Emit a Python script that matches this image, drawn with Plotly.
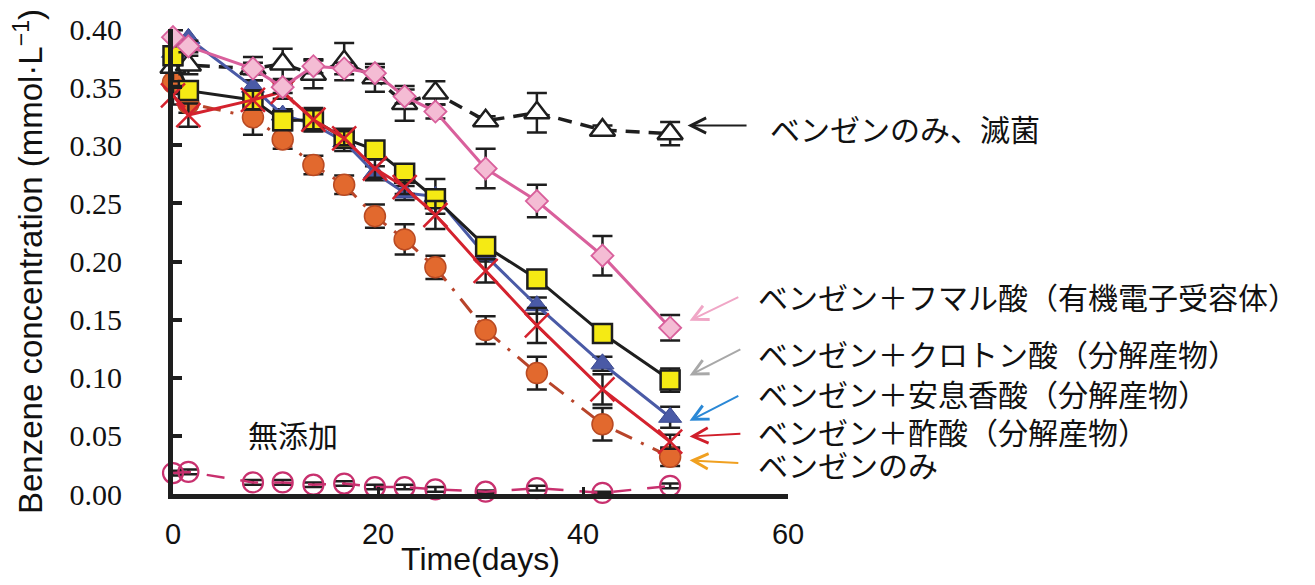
import plotly.graph_objects as go

# Sampling days
days = [0, 1.5, 7.8, 10.7, 13.7, 16.7, 19.7, 22.6, 25.6, 30.5, 35.5, 41.9, 48.5]

# Benzene concentration (mmol/L) and standard deviations per treatment
sterile = [0.367, 0.369, 0.366, 0.370, 0.361, 0.372, 0.358, 0.336, 0.345, 0.321, 0.328, 0.313, 0.310]
sterile_err = [0.012, 0.008, 0.010, 0.013, 0.012, 0.016, 0.012, 0.015, 0.010, 0.004, 0.017, 0.004, 0.010]

fumaric = [0.393, 0.385, 0.366, 0.350, 0.368, 0.366, 0.362, 0.342, 0.329, 0.280, 0.252, 0.205, 0.143]
fumaric_err = [0.006, 0.005, 0.005, 0.005, 0.006, 0.005, 0.005, 0.006, 0.006, 0.017, 0.014, 0.017, 0.011]

crotonic = [0.377, 0.347, 0.339, 0.321, 0.322, 0.306, 0.296, 0.276, 0.254, 0.213, 0.185, 0.138, 0.098]
crotonic_err = [0.008, 0.006, 0.006, 0.005, 0.008, 0.005, 0.005, 0.005, 0.005, 0.004, 0.005, 0.005, 0.010]

benzoic = [0.380, 0.392, 0.350, 0.326, 0.318, 0.303, 0.276, 0.259, 0.256, 0.205, 0.162, 0.112, 0.066]
benzoic_err = [0.010, 0.010, 0.006, 0.005, 0.006, 0.008, 0.006, 0.006, 0.015, 0.005, 0.007, 0.006, 0.009]

acetic = [0.343, 0.326, 0.339, 0.346, 0.322, 0.306, 0.280, 0.264, 0.240, 0.192, 0.145, 0.090, 0.045]
acetic_err = [0.008, 0.010, 0.008, 0.006, 0.010, 0.006, 0.008, 0.006, 0.012, 0.010, 0.015, 0.013, 0.006]

benzene_only = [0.354, 0.336, 0.324, 0.305, 0.283, 0.266, 0.239, 0.219, 0.195, 0.141, 0.104, 0.060, 0.032]
benzene_only_err = [0.010, 0.008, 0.015, 0.008, 0.008, 0.008, 0.010, 0.013, 0.010, 0.012, 0.014, 0.014, 0.008]

no_addition = [0.018, 0.019, 0.010, 0.010, 0.008, 0.009, 0.006, 0.006, 0.004, 0.002, 0.005, 0.001, 0.007]
no_addition_err = [0.002, 0.002, 0.002, 0.002, 0.002, 0.002, 0.002, 0.002, 0.002, 0.001, 0.002, 0.001, 0.002]

x_ticks = [0, 20, 40, 60]
y_ticks = [0.00, 0.05, 0.10, 0.15, 0.20, 0.25, 0.30, 0.35, 0.40]

label_sterile = "ベンゼンのみ、滅菌"
label_fumaric = "ベンゼン＋フマル酸（有機電子受容体）"
label_crotonic = "ベンゼン＋クロトン酸（分解産物）"
label_benzoic = "ベンゼン＋安息香酸（分解産物）"
label_acetic = "ベンゼン＋酢酸（分解産物）"
label_benzene = "ベンゼンのみ"
label_none = "無添加"
source_note = "舛本ら(2013)"

JP_FONT = "Noto Sans CJK JP"
INK = "#1e1e1e"


def err(values):
    return dict(type="data", array=values, visible=True, color=INK, thickness=2.5, width=10)


fig = go.Figure()

fig.add_trace(go.Scatter(
    x=days, y=no_addition, mode="lines+markers", name=label_none,
    line=dict(color="#c8306e", width=2.5, dash="18px,16px"),
    marker=dict(symbol="circle-open", size=20, color="#c8306e", line=dict(width=2.2)),
    error_y=err(no_addition_err), cliponaxis=False,
))
fig.add_trace(go.Scatter(
    x=days, y=benzene_only, mode="lines+markers", name=label_benzene,
    line=dict(color="#b8442a", width=3, dash="18px,10px,3px,10px"),
    marker=dict(symbol="circle", size=21, color="#e2692e", line=dict(color="#b94a22", width=1.5)),
    error_y=err(benzene_only_err), cliponaxis=False,
))
fig.add_trace(go.Scatter(
    x=days, y=sterile, mode="lines+markers", name=label_sterile,
    line=dict(color=INK, width=3.5, dash="14px,9px"),
    marker=dict(symbol="triangle-up", size=22, color="white", line=dict(color=INK, width=2.5)),
    error_y=err(sterile_err), cliponaxis=False,
))
fig.add_trace(go.Scatter(
    x=days, y=benzoic, mode="lines+markers", name=label_benzoic,
    line=dict(color="#4a5aa6", width=3),
    marker=dict(symbol="triangle-up", size=20, color="#4a5aa6", line=dict(color="#3c4a90", width=1)),
    error_y=err(benzoic_err), cliponaxis=False,
))
fig.add_trace(go.Scatter(
    x=days, y=crotonic, mode="lines+markers", name=label_crotonic,
    line=dict(color=INK, width=3),
    marker=dict(symbol="square", size=19, color="#f5ea14", line=dict(color=INK, width=2.5)),
    error_y=err(crotonic_err), cliponaxis=False,
))
fig.add_trace(go.Scatter(
    x=days, y=acetic, mode="lines+markers", name=label_acetic,
    line=dict(color="#d4222e", width=3),
    marker=dict(symbol="x-thin", size=24, color="#d4222e", line=dict(color="#d4222e", width=2.5)),
    error_y=err(acetic_err), cliponaxis=False,
))
fig.add_trace(go.Scatter(
    x=days, y=fumaric, mode="lines+markers", name=label_fumaric,
    line=dict(color="#d9609c", width=3),
    marker=dict(symbol="diamond", size=17, color="#f4bcd4", line=dict(color="#d9609c", width=1.8)),
    error_y=err(fumaric_err), cliponaxis=False,
))

# Side labels with pointer arrows:
# (text, arrow colour, label y, head x, head y, tail x, tail y, label x)
pointers = [
    (label_sterile, INK, 0.315, 50.2, 0.317, 56.1, 0.317, 58.0),
    (label_fumaric, "#f0a6c6", 0.170, 50.4, 0.149, 55.3, 0.170, 56.9),
    (label_crotonic, "#a8a8a8", 0.121, 50.4, 0.102, 55.5, 0.125, 56.9),
    (label_benzoic, "#2a88d6", 0.087, 50.4, 0.063, 55.3, 0.085, 56.9),
    (label_acetic, "#d01e2a", 0.054, 50.4, 0.0495, 55.5, 0.052, 56.9),
    (label_benzene, "#f0a020", 0.026, 50.4, 0.029, 55.3, 0.0265, 56.9),
]
for text, colour, ty, hx, hy, tx, ty_tail, lx in pointers:
    fig.add_annotation(
        x=hx, y=hy, ax=tx, ay=ty_tail, xref="x", yref="y", axref="x", ayref="y",
        text="", showarrow=True, arrowhead=5, arrowsize=1.5, arrowwidth=2,
        arrowcolor=colour, standoff=0, startstandoff=0,
    )
    fig.add_annotation(
        x=lx, y=ty, xref="x", yref="y", text=text, showarrow=False,
        xanchor="left", yanchor="middle",
        font=dict(family=JP_FONT, size=30, color="#111111"),
    )

fig.add_annotation(
    x=11.7, y=0.052, xref="x", yref="y", text=label_none, showarrow=False,
    xanchor="center", yanchor="middle",
    font=dict(family=JP_FONT, size=30, color="#111111"),
)
fig.add_annotation(
    x=83.3, y=0.409, xref="x", yref="y", text=source_note, showarrow=False,
    xanchor="center", yanchor="middle",
    font=dict(family=JP_FONT, size=27, color="#111111"),
)

fig.update_layout(
    width=1315, height=585,
    margin=dict(l=173, r=527, t=25, b=91),
    paper_bgcolor="white", plot_bgcolor="white",
    showlegend=False,
)
fig.update_xaxes(
    range=[0, 60], tickvals=x_ticks, ticktext=[str(v) for v in x_ticks],
    showline=True, linecolor=INK, linewidth=5, mirror=False,
    ticks="inside", ticklen=7, tickwidth=3, tickcolor=INK,
    showgrid=False, zeroline=False,
    tickfont=dict(family="Liberation Sans", size=29, color="#111111"),
    ticklabelstandoff=10,
    title=dict(text="Time(days)", font=dict(family="Liberation Sans", size=32, color="#111111"), standoff=0),
)
fig.update_yaxes(
    range=[0, 0.40], tickvals=y_ticks, tickformat=".2f",
    showline=True, linecolor=INK, linewidth=5, mirror=False,
    ticks="inside", ticklen=9, tickwidth=3.5, tickcolor=INK,
    showgrid=False, zeroline=False,
    tickfont=dict(family="Liberation Serif", size=30, color="#111111"),
    ticklabelstandoff=40,
    title=dict(text="Benzene concentration (mmol·L<sup>−1</sup>)",
               font=dict(family="Liberation Sans", size=33, color="#111111"), standoff=18),
)

fig.write_html("out.html")
